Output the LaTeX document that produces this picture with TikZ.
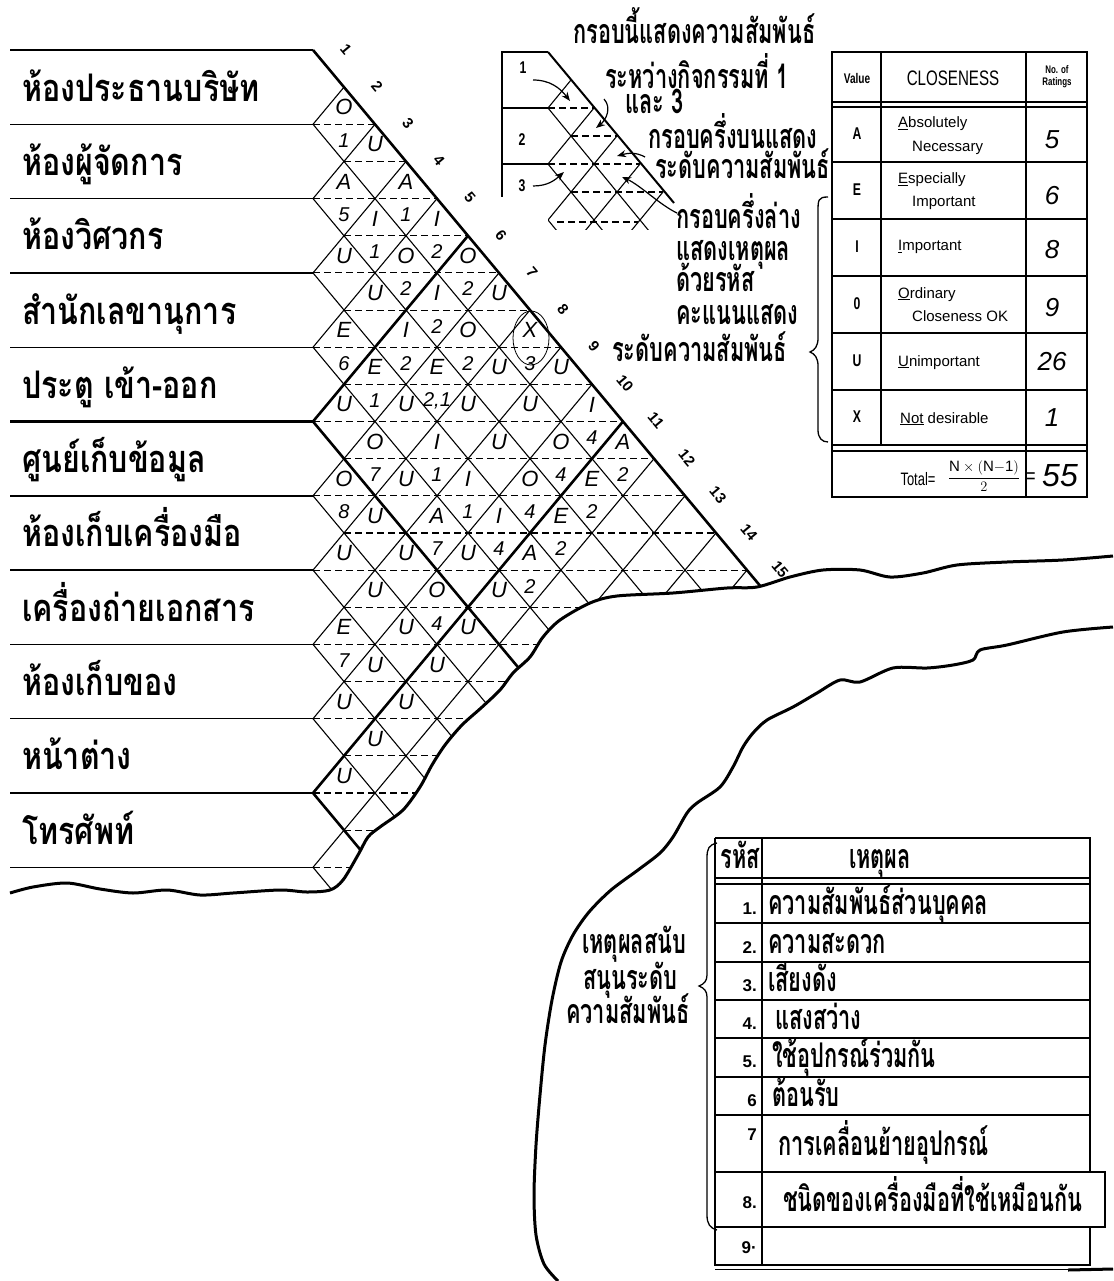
\documentclass[tikz,border=0pt]{standalone}
\usepackage{fontspec}
\setmainfont{Liberation Sans}
\newfontfamily\thaiA[Script=Thai,FakeStretch=0.8]{Loma}
\newfontfamily\thaiB[Script=Thai,FakeStretch=0.64]{Loma}
\newfontfamily\handf{Liberation Sans}
\newfontfamily\condf[FakeStretch=0.72]{Liberation Sans}
\usetikzlibrary{arrows.meta}
\begin{document}
\begin{tikzpicture}[x=1pt,y=-1pt,
  gridl/.style={line width=1.1pt},
  boldl/.style={line width=2.6pt},
  dsh/.style={line width=1.1pt,dash pattern=on 7pt off 4pt},
  hand/.style={font=\handf\itshape\fontsize{22}{22}\selectfont,inner sep=0pt},
  num/.style={font=\handf\bfseries\fontsize{15}{15}\selectfont,inner sep=0pt,rotate=-50},
  rowlab/.style={font=\thaiA\bfseries\fontsize{38}{40}\selectfont,anchor=base west,inner sep=0pt},
  lgd/.style={font=\thaiB\bfseries\fontsize{34}{36}\selectfont,anchor=base west,inner sep=0pt},
  tb/.style={font=\handf\fontsize{15}{16}\selectfont,anchor=base west,inner sep=0pt},
  arr/.style={line width=1.2pt,-{Stealth[length=9pt,width=7pt]}},
  torn/.style={line width=3pt,line join=round}
]
\useasboundingbox (0,0) rectangle (1113,1281);
\fill[white] (0,0) rectangle (1113,1281);

% ---------- row lines and labels ----------
\foreach \k in {0,...,11} {
  \draw[gridl,line width=1.4pt] (10,{50+74.3*\k}) -- (313,{50+74.3*\k});
}
\draw[boldl] (10,421.5) -- (313,421.5);
\draw[boldl] (10,793) -- (313,793);
\foreach \k/\t in {1/ห้องประธานบริษัท,2/ห้องผู้จัดการ,3/ห้องวิศวกร,4/สำนักเลขานุการ,
  5/ประตู เข้า-ออก,6/ศูนย์เก็บข้อมูล,7/ห้องเก็บเครื่องมือ,8/เครื่องถ่ายเอกสาร,
  9/ห้องเก็บของ,10/หน้าต่าง,11/โทรศัพท์} {
  \node[rowlab] (r\k) at (22,{50+74.3*(\k-0.5)+14}) {\t};
}

% ---------- relationship grid ----------
\begin{scope}
\clip (0,0) -- (1113,0) -- (1113,556) -- plot[smooth] coordinates {(1113,556) (1063,560) (1007,562) (957,565) (923,573) (890,577) (860,570) (823,570) (790,577) (757,587) (727,588) (673,593) (617,596) (590,603) (560,620) (543,637) (530,657) (513,673) (500,690) (481,708) (462,725) (445,745) (432,765) (420,787) (403,810) (380,827) (368,837) (358,855) (343,880) (330,890) (307,892) (280,890) (233,893) (200,895) (167,890) (133,893) (100,889) (67,883) (33,887) (10,893)} -- (0,893) -- cycle;
\foreach \k in {1,...,16} {
  \draw[gridl] (313,{50+74.3*\k}) -- ++(620,743);
  \draw[gridl] (313,{50+74.3*\k}) -- ({313+31*\k},{50+37.15*\k});
}
\foreach \m in {2,...,30} {
  \pgfmathsetmacro\xl{313+31*mod(\m,2)}
  \draw[dsh] (\xl,{50+37.15*\m}) -- ({313+31*\m},{50+37.15*\m});
}
\draw[boldl] (313,50) -- ++(620,743);
\draw[boldl] (313,421.5) -- ++(620,743);
\draw[boldl] (313,793) -- ++(620,743);
\draw[boldl] (313,421.5) -- (468,235.75);
\draw[boldl] (313,793) -- (623,421.5);
\end{scope}

% numbers along the outer edge
\foreach \k in {1,...,15} {
  \node[num] (n\k) at ({315+31*\k},{12+37.15*\k}) {\k};
}

% cell contents
\foreach \i/\j/\L/\C in {1/2/O/1,1/3/U/,1/4/A/1,1/5/I/2,1/6/O/2,1/7/U/,1/8/X/3,1/9/U/,1/10/I/4,1/11/A/2,
  2/3/A/5,2/4/I/1,2/5/O/2,2/6/I/2,2/7/O/2,2/8/U/,2/9/U/,2/10/O/4,2/11/E/2,
  3/4/U/,3/5/U/,3/6/I/2,3/7/E/{2,1},3/8/U/,3/9/U/,3/10/O/4,3/11/E/2,
  4/5/E/6,4/6/E/1,4/7/U/,4/8/I/1,4/9/I/1,4/10/I/4,4/11/A/2,
  5/6/U/,5/7/O/7,5/8/U/,5/9/A/7,5/10/U/,5/11/U/,
  6/7/O/8,6/8/U/,6/9/U/,6/10/O/4,6/11/U/,
  7/8/U/,7/9/U/,7/10/U/,7/11/U/,
  8/9/E/7,8/10/U/,8/11/U/,
  9/10/U/,9/11/U/,
  10/11/U/} {
  \pgfmathsetmacro\cx{313+31*(\j-\i)}
  \pgfmathsetmacro\cy{50+37.15*(\i+\j-1)}
  \node[hand] (u\i-\j) at (\cx,\cy-17) {\L};
  \node[hand,font=\handf\itshape\fontsize{20}{20}\selectfont] (l\i-\j) at (\cx,\cy+16) {\C};
}
\draw[line width=0.8pt] (531,338) ellipse [x radius=18pt, y radius=27pt];

% ---------- legend mini chart ----------
\draw[line width=1.4pt] (548,52) -- (502,52) -- (502,197);
\draw[line width=1.2pt] (502,108) -- (548,108);
\draw[line width=1.2pt] (502,164) -- (548,164);
\begin{scope}
\clip (548,40) rectangle (700,230);
\foreach \k in {1,...,3} \draw[gridl] (548,{52+56*\k}) -- ++(115,140);
\foreach \k in {1,...,5} \draw[gridl] (548,{52+56*\k}) -- ({548+23*\k},{52+28*\k});
\foreach \m in {2,...,5} {
  \pgfmathsetmacro\xl{548+23*mod(\m,2)}
  \draw[dsh] (\xl,{52+28*\m}) -- ({548+23*\m},{52+28*\m});
}
\draw[dsh] (557,222) -- (638,222);
\end{scope}
\draw[line width=2pt] (548,52) -- (674,203);
\node[font=\condf\bfseries\fontsize{17}{17}\selectfont,inner sep=0pt] (m1) at (523,68) {1};
\node[font=\condf\bfseries\fontsize{17}{17}\selectfont,inner sep=0pt] (m2) at (522,140) {2};
\node[font=\condf\bfseries\fontsize{17}{17}\selectfont,inner sep=0pt] (m3) at (522,186) {3};
\draw[arr] (533,80) .. controls (550,80) and (560,88) .. (570,101);
\draw[arr] (604,99) .. controls (612,108) and (606,120) .. (596,128);
\draw[arr] (645,157) .. controls (636,152) and (628,153) .. (617,156);
\draw[arr] (533,186) .. controls (548,186) and (555,180) .. (564,172);
\draw[arr] (677,213) .. controls (660,205) and (640,185) .. (622,177);

\node[lgd] (t1) at (573,44) {กรอบนี้แสดงความสัมพันธ์};
\node[lgd] (t2) at (605,89) {ระหว่างกิจกรรมที่ 1};
\node[lgd] (t3) at (625,114) {และ 3};
\node[lgd] (t4) at (648,149) {กรอบครึ่งบนแสดง};
\node[lgd] (t5) at (655,179) {ระดับความสัมพันธ์};
\node[lgd] (t6) at (676,229) {กรอบครึ่งล่าง};
\node[lgd] (t7) at (676,260) {แสดงเหตุผล};
\node[lgd] (t8) at (676,291) {ด้วยรหัส};
\node[lgd] (t9) at (676,324) {คะแนนแสดง};
\node[lgd] (t10) at (612,361) {ระดับความสัมพันธ์};
\draw[line width=1.3pt] (828,197) .. controls (818,197) and (818,200) .. (818,212) -- (818,338)
  .. controls (818,346) and (815,350) .. (810,352) .. controls (815,354) and (818,358) .. (818,366)
  -- (818,430) .. controls (818,438) and (822,442) .. (828,442);

% ---------- closeness table ----------
\draw[line width=1.4pt] (832,52) rectangle (1087,497);
\draw[line width=1.2pt] (832,102) -- (1087,102) (832,107) -- (1087,107);
\foreach \y in {162,219,276,333,390} \draw[line width=1.2pt] (832,\y) -- (1087,\y);
\draw[line width=1.2pt] (832,445) -- (1087,445) (832,451) -- (1087,451);
\draw[line width=1.2pt] (881,52) -- (881,445);
\draw[line width=1.2pt] (1026,52) -- (1026,497);
\node[font=\condf\bfseries\fontsize{14}{14}\selectfont,inner sep=0pt] (hv) at (857,78) {Value};
\node[font=\condf\fontsize{21}{21}\selectfont,inner sep=0pt] (hc) at (953,78) {CLOSENESS};
\node[font=\condf\bfseries\fontsize{11}{12}\selectfont,inner sep=0pt,align=center] (hn) at (1057,77) {No. of\\Ratings};
\foreach \v/\y/\n in {A/134/a,E/190/e,I/247/i,0/304/o,U/361/u,X/417/x}
  \node[font=\condf\bfseries\fontsize{17}{17}\selectfont,inner sep=0pt] (v\n) at (857,\y) {\v};
\node[tb] (da1) at (898,128) {\underline{A}bsolutely};
\node[tb] (da2) at (912,152) {Necessary};
\node[tb] (de1) at (898,184) {\underline{E}specially};
\node[tb] (de2) at (912,207) {Important};
\node[tb] (di) at (898,251) {\underline{I}mportant};
\node[tb] (do1) at (898,298) {\underline{O}rdinary};
\node[tb] (do2) at (912,321) {Closeness OK};
\node[tb] (du) at (898,366) {\underline{U}nimportant};
\node[tb] (dx) at (900,423) {\underline{Not} desirable};
\foreach \t/\y/\n in {5/140/a,6/196/e,8/250/i,9/308/o,26/362/u,1/418/x}
  \node[font=\handf\itshape\fontsize{26}{26}\selectfont,inner sep=0pt] (c\n) at (1052,\y) {\t};
\node[font=\condf\fontsize{18}{18}\selectfont,inner sep=0pt] (tot) at (918,479) {Total=};
\node[font=\condf\fontsize{15}{15}\selectfont,inner sep=0pt] (fr) at (984,476) {$\displaystyle\frac{\mathrm{N}\times(\mathrm{N{-}1})}{2}$};
\node[font=\condf\fontsize{22}{22}\selectfont,inner sep=0pt] (eq) at (1031,478) {=};
\node[font=\handf\itshape\fontsize{32}{32}\selectfont,inner sep=0pt] (c55) at (1060,476) {55};

% ---------- torn edges ----------
\draw[torn] plot[smooth] coordinates {(1113,556) (1063,560) (1007,562) (957,565) (923,573) (890,577) (860,570) (823,570) (790,577) (757,587) (727,588) (673,593) (617,596) (590,603) (560,620) (543,637) (530,657) (513,673) (500,690) (481,708) (462,725) (445,745) (432,765) (420,787) (403,810) (380,827) (368,837) (358,855) (343,880) (330,890) (307,892) (280,890) (233,893) (200,895) (167,890) (133,893) (100,889) (67,883) (33,887) (10,893)};
\draw[torn] plot[smooth] coordinates {(1113,627) (1063,632) (1007,645) (980,650) (973,660) (953,665) (927,668) (893,668) (860,682) (840,680) (817,693) (793,707) (767,720) (753,733) (743,747) (733,767) (720,787) (697,803) (687,813) (673,837) (660,853) (638,870) (611,890) (589,912) (573,935) (561,962) (552,1000) (545,1045) (540,1095) (536,1145) (534,1195) (536,1235) (544,1264) (558,1281)};
\draw[line width=0.6pt] (715,1269) -- (1070,1269);
\draw[line width=3pt] (1068,1270) -- (1113,1269);

% ---------- reasons table ----------
\draw[line width=1.4pt] (715,838) -- (1090,838) -- (1090,1172);
\draw[line width=1.4pt] (1090,1227) -- (1090,1265) -- (715,1265) -- (715,838);
\draw[line width=1.3pt] (715,1172) -- (1105,1172) -- (1105,1227) -- (715,1227);
\draw[line width=1.2pt] (715,878) -- (1090,878) (715,884) -- (1090,884);
\foreach \y in {923,962,1000,1038,1077,1115} \draw[line width=1.2pt] (715,\y) -- (1090,\y);
\draw[line width=1.3pt] (762,838) -- (762,1265);
\node[lgd,anchor=base] (hr) at (740,868) {รหัส};
\node[lgd,anchor=base] (hw) at (880,868) {เหตุผล};
\foreach \n/\t/\y in {1/1./914,2/2./953,3/3./991,4/4./1029,5/5./1067,6/6/1106,7/7/1140,8/8./1208,9/9\textperiodcentered/1253}
  \node[font=\handf\bfseries\fontsize{17}{17}\selectfont,anchor=base east,inner sep=0pt] (k\n) at (757,\y) {\t};
\node[lgd] (w1) at (768,914) {ความสัมพันธ์ส่วนบุคคล};
\node[lgd] (w2) at (768,953) {ความสะดวก};
\node[lgd] (w3) at (768,991) {เสียงดัง};
\node[lgd] (w4) at (775,1029) {แสงสว่าง};
\node[lgd] (w5) at (772,1067) {ใช้อุปกรณ์ร่วมกัน};
\node[lgd] (w6) at (772,1106) {ต้อนรับ};
\node[lgd] (w7) at (778,1155) {การเคลื่อนย้ายอุปกรณ์};
\node[lgd] (w8) at (783,1211) {ชนิดของเครื่องมือที่ใช้เหมือนกัน};
\node[lgd] (s1) at (582,953) {เหตุผลสนับ};
\node[lgd] (s2) at (583,989) {สนุนระดับ};
\node[lgd] (s3) at (566,1023) {ความสัมพันธ์};
\draw[line width=1.3pt] (717,843) .. controls (709,845) and (707,848) .. (707,858) -- (707,975)
  .. controls (707,981) and (704,984) .. (699,986) .. controls (704,988) and (707,991) .. (707,997)
  -- (707,1215) .. controls (707,1224) and (710,1228) .. (717,1230);
\end{tikzpicture}
\end{document}
